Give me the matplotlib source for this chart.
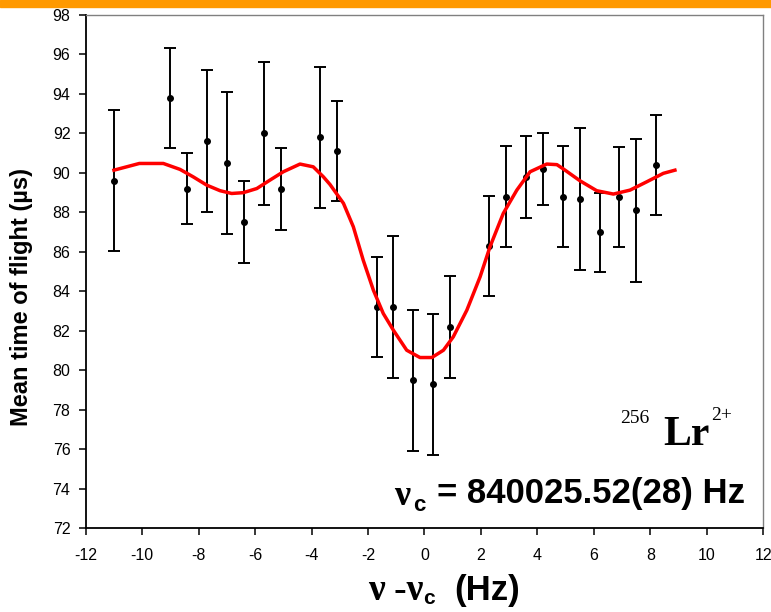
import matplotlib.pyplot as plt
from matplotlib.patches import Rectangle

plt.rcParams['axes.unicode_minus'] = False

# measured points (frequency offset in Hz, mean TOF in us, error)
freq = [-11.0, -9.0, -8.4, -7.7, -7.0, -6.4, -5.7, -5.1, -3.7, -3.1, -1.7, -1.1, -0.4,
        0.3, 0.9, 2.3, 2.9, 3.6, 4.2, 4.9, 5.5, 6.2, 6.9, 7.5, 8.2]
tof = [89.6, 93.8, 89.2, 91.6, 90.5, 87.5, 92.0, 89.2, 91.8, 91.1, 83.2, 83.2, 79.5,
       79.3, 82.2, 86.3, 88.8, 89.8, 90.2, 88.8, 88.7, 87.0, 88.8, 88.1, 90.4]
tof_err = [3.57, 2.53, 1.8, 3.6, 3.6, 2.07, 3.6, 2.07, 3.58, 2.54, 2.53, 3.6, 3.57,
           3.58, 2.57, 2.55, 2.55, 2.07, 1.8, 2.54, 3.6, 2.0, 2.53, 3.6, 2.54]

# fitted curve
fit_x = [-11.0, -10.1, -9.25, -8.66, -8.19, -7.71, -7.24, -6.83, -6.42, -5.94, -5.47,
         -5.0, -4.41, -3.94, -3.58, -3.35, -2.87, -2.52, -2.17, -1.81, -1.46, -1.1,
         -0.63, -0.16, 0.26, 0.67, 1.02, 1.5, 1.97, 2.32, 2.79, 3.27, 3.74, 4.33, 4.69,
         4.92, 5.51, 6.1, 6.69, 7.28, 7.87, 8.46, 8.87]
fit_y = [90.14, 90.48, 90.48, 90.18, 89.8, 89.38, 89.1, 88.96, 89.0, 89.21, 89.64,
         90.06, 90.45, 90.31, 89.8, 89.42, 88.46, 87.27, 85.58, 84.06, 82.88, 82.03,
         81.02, 80.65, 80.65, 81.02, 81.7, 83.05, 84.74, 86.26, 87.95, 89.13, 90.06,
         90.45, 90.42, 90.2, 89.6, 89.1, 88.93, 89.13, 89.55, 89.98, 90.14]

x_ticks = list(range(-12, 13, 2))
y_ticks = list(range(72, 99, 2))

W, H = 771, 612


def px(x, y):
    # pixel position -> figure fraction
    return x / W, 1 - y / H


fig = plt.figure(figsize=(W / 100, H / 100), dpi=100)
fig.patch.set_facecolor('white')

# orange band on top
fig.patches.append(Rectangle((0, 1 - 7 / H), 1, 7 / H, transform=fig.transFigure,
                             color='#FF9900', zorder=0))

left, right, top, bottom = 85.7, 763.3, 15.0, 528.3
ax = fig.add_axes([left / W, 1 - bottom / H, (right - left) / W, (bottom - top) / H])

ax.errorbar(freq, tof, yerr=tof_err, fmt='o', color='black', ms=4, elinewidth=1.4,
            capsize=4, capthick=1.4, zorder=3)
ax.plot(fit_x, fit_y, color='red', lw=2.5, zorder=4)

ax.set_xlim(-12, 12)
ax.set_ylim(72, 98)
ax.set_xticks(x_ticks)
ax.set_yticks(y_ticks)
ax.tick_params(axis='both', direction='out', length=5, width=1.1, labelsize=11.5)
ax.tick_params(axis='x', pad=9)
ax.tick_params(axis='y', pad=6)
for lab in ax.get_xticklabels() + ax.get_yticklabels():
    lab.set_fontfamily('Liberation Sans')

for side in ['left', 'bottom']:
    ax.spines[side].set_color('black')
    ax.spines[side].set_linewidth(1.3)
for side in ['top', 'right']:
    ax.spines[side].set_color('#808080')
    ax.spines[side].set_linewidth(1.0)

# y label
fig.text(*px(22, 297), 'Mean time of flight (µs)', rotation=90, ha='center', va='center',
         fontsize=17, fontweight='bold', family='Liberation Sans')

# x label: ν -ν_c (Hz)
fig.text(*px(368, 600), 'ν -ν', ha='left', va='baseline', fontsize=27,
         fontweight='bold', family='Liberation Serif')
fig.text(*px(423, 604), 'c', ha='left', va='baseline', fontsize=15,
         fontweight='bold', family='Liberation Sans')
fig.text(*px(454, 600), '(Hz)', ha='left', va='baseline', fontsize=25,
         fontweight='bold', family='Liberation Sans')

# isotope label
fig.text(*px(620, 423), '256', ha='left', va='baseline', fontsize=14,
         family='Liberation Serif')
fig.text(*px(663, 445), 'Lr', ha='left', va='baseline', fontsize=30,
         fontweight='bold', family='Liberation Serif')
fig.text(*px(711, 420), '2+', ha='left', va='baseline', fontsize=14,
         family='Liberation Serif')

# result
fig.text(*px(394, 505), 'ν', ha='left', va='baseline', fontsize=26,
         fontweight='bold', family='Liberation Serif')
fig.text(*px(413, 511), 'c', ha='left', va='baseline', fontsize=16,
         fontweight='bold', family='Liberation Sans')
fig.text(*px(437, 503), '= 840025.52(28) Hz', ha='left', va='baseline', fontsize=25,
         fontweight='bold', family='Liberation Sans')

fig.savefig('out.png', dpi=100)
